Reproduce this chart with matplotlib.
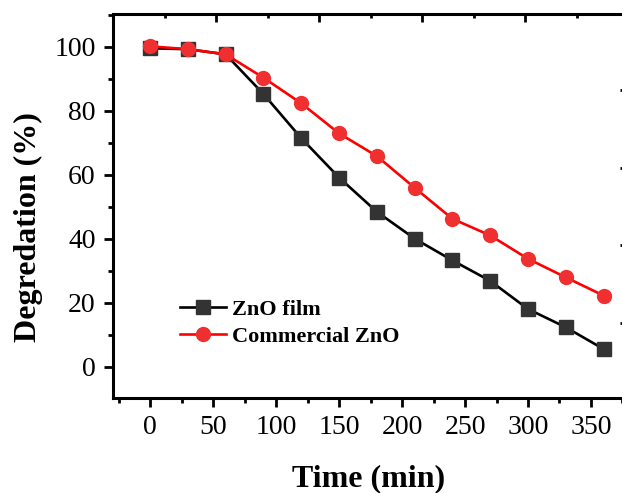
import matplotlib
matplotlib.use("Agg")
import matplotlib.pyplot as plt
from matplotlib.ticker import MultipleLocator

time = [0, 30, 60, 90, 120, 150, 180, 210, 240, 270, 300, 330, 360]
zno_film = [99.6, 99.3, 97.7, 85.3, 71.5, 59.2, 48.5, 40.1, 33.3, 26.9, 18.1, 12.4, 5.6]
commercial_zno = [100.2, 99.3, 97.7, 90.4, 82.4, 73.0, 65.9, 56.0, 46.3, 41.1, 33.8, 28.0, 22.3]
labels = ["ZnO film", "Commercial ZnO"]

plt.rcParams['font.family'] = ['Liberation Serif', 'DejaVu Serif']

W, H = 622, 493
fig = plt.figure(figsize=(W/100, H/100), dpi=100)
left_px, right_px, top_px, bot_px = 113, 624, 14, 398
ax = fig.add_axes([left_px/W, (H-bot_px)/H, (right_px-left_px)/W, (bot_px-top_px)/H])

ax.plot(time, zno_film, color='black', lw=1.9, marker='s', markersize=9.5,
        markerfacecolor='#333333', markeredgecolor='#333333', label=labels[0], zorder=3)
ax.plot(time, commercial_zno, color='#ff0000', lw=1.9, marker='o', markersize=10,
        markerfacecolor='#f03030', markeredgecolor='#f03030', label=labels[1], zorder=4)

ax.set_xlim(-29.4, 376.2)
ax.set_ylim(-9.7, 110.3)
ax.xaxis.set_major_locator(MultipleLocator(50))
ax.xaxis.set_minor_locator(MultipleLocator(25))
ax.yaxis.set_major_locator(MultipleLocator(20))
ax.yaxis.set_minor_locator(MultipleLocator(10))

for s in ax.spines.values():
    s.set_linewidth(2.2)

ax.tick_params(axis='both', which='major', direction='out', length=6.5, width=2,
               labelsize=20, pad=6)
ax.tick_params(axis='both', which='minor', direction='out', length=3.5, width=2)
ax.tick_params(top=False, right=False, which='both')

# top axis ticks (inward, own spacing as in the reference)
topax = ax.twiny()
topax.set_xlim(-1.0, 3.961)
topax.xaxis.set_major_locator(MultipleLocator(1))
topax.xaxis.set_minor_locator(MultipleLocator(0.5))
topax.tick_params(axis='x', which='major', direction='in', length=6, width=2, labeltop=False)
topax.tick_params(axis='x', which='minor', direction='in', length=3, width=2)
for s in topax.spines.values():
    s.set_visible(False)

# right axis ticks (inward, spine just outside the figure)
rightax = ax.twinx()
rightax.set_ylim(-0.968, 3.987)
rightax.yaxis.set_major_locator(MultipleLocator(1))
rightax.yaxis.set_minor_locator(MultipleLocator(1))
rightax.tick_params(axis='y', which='major', direction='in', length=3, width=2, labelright=False)
for s in rightax.spines.values():
    s.set_visible(False)

ax.set_xlabel('Time (min)', fontsize=23, fontweight='bold', labelpad=17)
ax.set_ylabel('Degredation (%)', fontsize=23, fontweight='bold')
ax.yaxis.set_label_coords(-0.137, 0.445)

leg = ax.legend(loc='center left', bbox_to_anchor=(0.132, 0.195), frameon=False,
                prop={'weight': 'bold', 'size': 16}, handlelength=2.05,
                handletextpad=0.25, labelspacing=0.3, borderaxespad=0, borderpad=0)

fig.savefig('out.png', dpi=100)
